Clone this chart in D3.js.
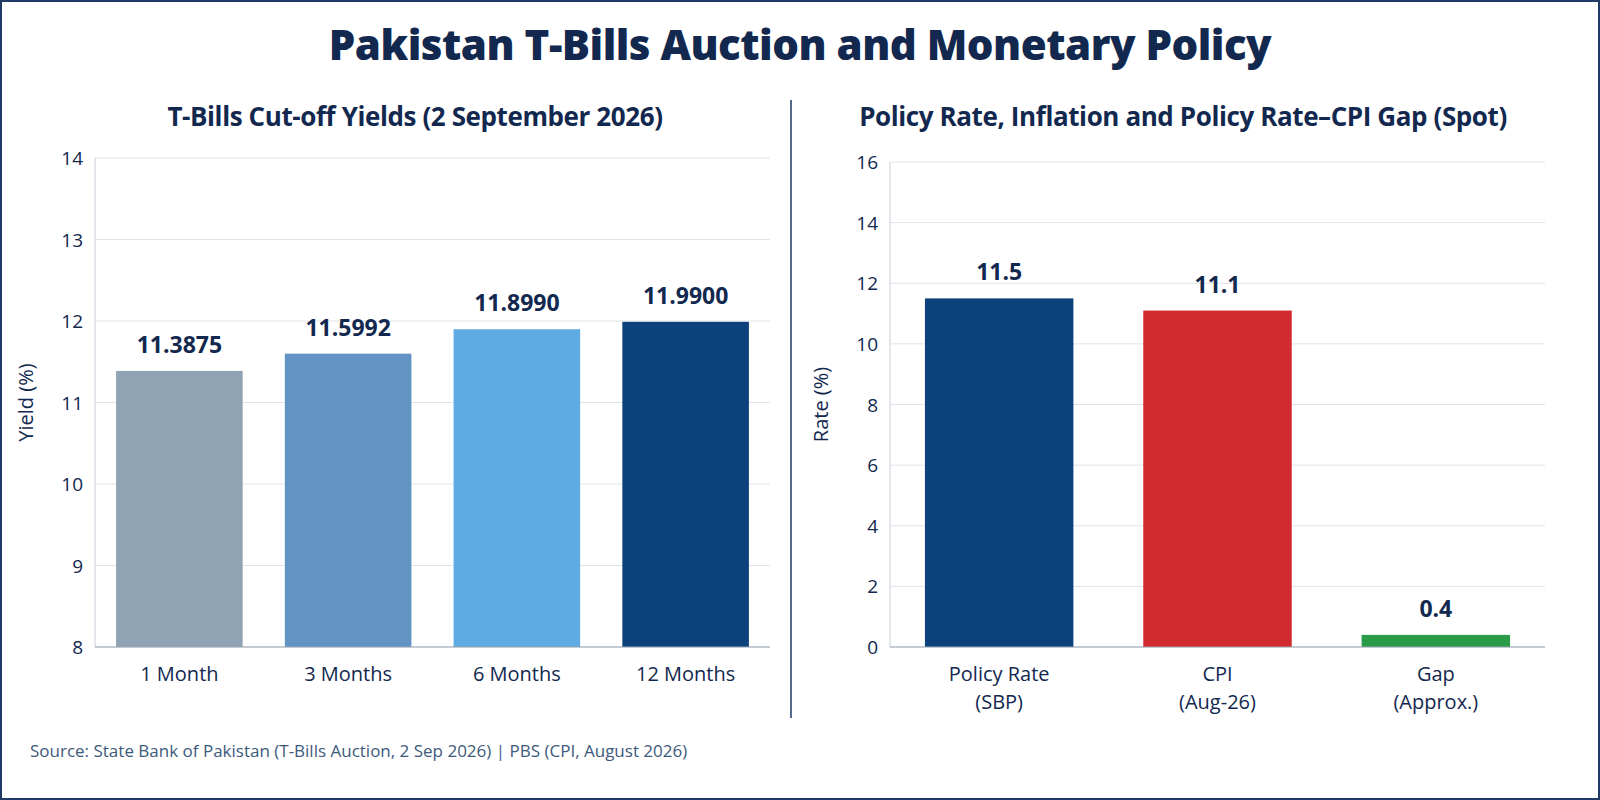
<!DOCTYPE html>
<html><head><meta charset="utf-8">
<script src="https://cdn.jsdelivr.net/npm/d3@7"></script>
<style>
body{margin:0;background:#fff;}
svg{font-family:"Open Sans",sans-serif;}
</style></head>
<body><svg id="c" width="1600" height="800"></svg>
<script>
// T-bill data
var tenors = ["1 Month","3 Months","6 Months","12 Months"];
var yields = [11.3875, 11.5992, 11.8990, 11.9900];
var yieldLabels = ["11.3875","11.5992","11.8990","11.9900"];
var tenorColors = ["#8fa3b4","#6294c3","#5eaae2","#0d417c"];
var yieldTicks = [8,9,10,11,12,13,14];

// policy data
var policyCats = [["Policy Rate","(SBP)"],["CPI","(Aug-26)"],["Gap","(Approx.)"]];
var policyVals = [11.5, 11.1, 0.4];
var policyColors = ["#0d417c","#d12b2f","#2a9b49"];
var rateTicks = [0,2,4,6,8,10,12,14,16];

var svg = d3.select("#c");
var navy = "#12284f";
svg.append("rect").attr("x",1).attr("y",1).attr("width",1598).attr("height",798)
  .attr("fill","none").attr("stroke","#1e3a66").attr("stroke-width",2);
svg.append("text").attr("x",800).attr("y",60).attr("text-anchor","middle")
  .attr("font-size",42).attr("font-weight",800).attr("fill",navy).attr("letter-spacing",-0.5)
  .text("Pakistan T-Bills Auction and Monetary Policy");
svg.append("line").attr("x1",791).attr("x2",791).attr("y1",100).attr("y2",718)
  .attr("stroke","#1e3a66").attr("stroke-width",1.5);
svg.append("text").attr("x",30).attr("y",757).attr("font-size",17).attr("fill","#3d5a7c")
  .text("Source: State Bank of Pakistan (T-Bills Auction, 2 Sep 2026) | PBS (CPI, August 2026)");

function panel(o){
  var x = d3.scaleBand().domain(d3.range(o.vals.length)).range([o.x0,o.x1]).paddingInner(o.pad).paddingOuter(o.pad/2);
  var y = d3.scaleLinear().domain(o.dom).range([647,o.top]);
  var g = svg.append("g");
  g.append("text").attr("x",o.tx).attr("y",126).attr("text-anchor","middle")
    .attr("font-size",26).attr("font-weight",700).attr("fill",navy).attr("letter-spacing",-0.4).text(o.title);
  g.selectAll(".gl").data(o.ticks).join("line").attr("x1",o.x0).attr("x2",o.x1)
    .attr("y1",d=>y(d)).attr("y2",d=>y(d)).attr("stroke","#dfe3e8");
  g.append("line").attr("x1",o.x0).attr("x2",o.x0).attr("y1",o.top).attr("y2",647).attr("stroke","#c8ced6");
  g.selectAll(".tk").data(o.ticks).join("text").attr("x",o.x0-12).attr("y",d=>y(d)+7)
    .attr("text-anchor","end").attr("font-size",19).attr("fill",navy).text(d=>d);
  g.append("text").attr("transform","translate("+(o.x0-62)+","+((647+o.top)/2)+") rotate(-90)")
    .attr("text-anchor","middle").attr("font-size",20).attr("fill",navy).text(o.ylab);
  g.selectAll(".b").data(o.vals).join("rect").attr("x",(d,i)=>x(i)).attr("width",x.bandwidth())
    .attr("y",d=>y(d)).attr("height",d=>647-y(d)).attr("fill",(d,i)=>o.colors[i]);
  g.selectAll(".v").data(o.vals).join("text").attr("x",(d,i)=>x(i)+x.bandwidth()/2).attr("y",d=>y(d)-18)
    .attr("text-anchor","middle").attr("font-size",23).attr("font-weight",700).attr("fill",navy)
    .text((d,i)=>o.labels[i]);
  g.append("line").attr("x1",o.x0).attr("x2",o.x1).attr("y1",647).attr("y2",647).attr("stroke","#9aa5b3");
  o.cats.forEach(function(c,i){
    var t = g.append("text").attr("x",x(i)+x.bandwidth()/2).attr("y",681).attr("text-anchor","middle")
      .attr("font-size",20).attr("fill",navy);
    [].concat(c).forEach((s,k)=>t.append("tspan").attr("x",x(i)+x.bandwidth()/2).attr("dy",k?28:0).text(s));
  });
}
panel({vals:yields,labels:yieldLabels,colors:tenorColors,cats:tenors,ticks:yieldTicks,dom:[8,14],
  x0:95,x1:770,top:158,pad:0.25,tx:415,title:"T-Bills Cut-off Yields (2 September 2026)",ylab:"Yield (%)"});
panel({vals:policyVals,labels:["11.5","11.1","0.4"],colors:policyColors,cats:policyCats,ticks:rateTicks,dom:[0,16],
  x0:890,x1:1545,top:162,pad:0.32,tx:1183,title:"Policy Rate, Inflation and Policy Rate\u2013CPI Gap (Spot)",ylab:"Rate (%)"});
</script></body></html>
